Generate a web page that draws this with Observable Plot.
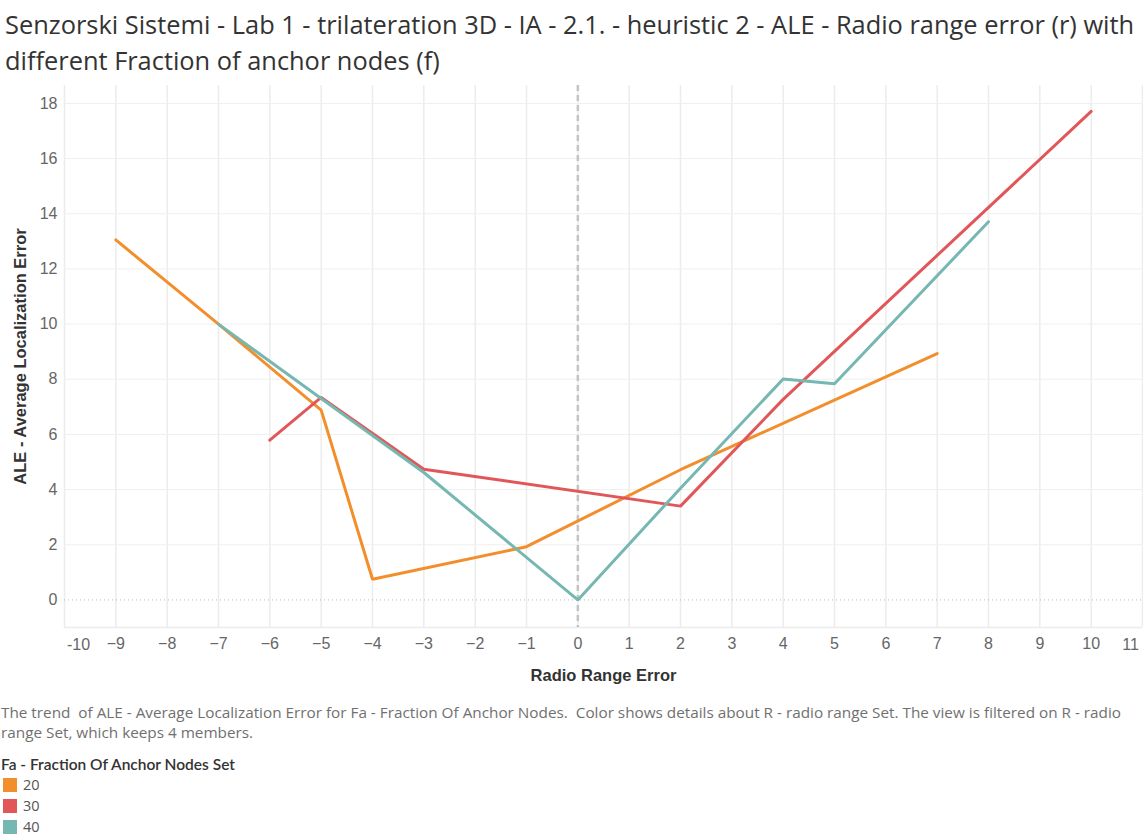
<!DOCTYPE html>
<html>
<head>
<meta charset="utf-8">
<script src="https://cdn.jsdelivr.net/npm/d3@7"></script>
<script src="https://cdn.jsdelivr.net/npm/@observablehq/plot@0.6"></script>
<style>
  body { margin: 0; background: #fff; font-family: "Open Sans", Lato, sans-serif; }
  #title { padding: 6px 0 0 5px; font-size: 25.4px; line-height: 36px; color: #333; height: 74px; white-space: nowrap; }
  #chart svg { display: block; }
  #caption { padding-left: 1px; font-size: 15.3px; line-height: 20px; color: #707070; margin-top: 7px; width: 1138px; }
  #legend { margin-top: 12px; padding-left: 3px; }
  #legend .head { font-family: Lato, sans-serif; font-size: 15.5px; color: #333; font-weight: 600; line-height: 20px; margin-left: -2px; }
  #legend .item { display: flex; align-items: center; height: 21px; font-size: 14.5px; color: #555; }
  #legend .sw { width: 14px; height: 14px; margin-right: 6px; }
</style>
</head>
<body>
<div id="title">Senzorski Sistemi - Lab 1 - trilateration 3D - IA - 2.1. - heuristic 2 - ALE - Radio range error (r) with<br>different Fraction of anchor nodes (f)</div>
<div id="chart"></div>
<div id="caption">The trend &nbsp;of ALE - Average Localization Error for Fa - Fraction Of Anchor Nodes. &nbsp;Color shows details about R - radio range Set. The view is filtered on R - radio range Set, which keeps 4 members.</div>
<div id="legend"></div>
<script>
// series (x = radio range error, y = ALE)
const seriesNames = ["20", "30", "40"];
const colors = ["#f28e2b", "#e15759", "#76b7b2"];

const r20 = [-9, -7, -5, -4, -1, 2, 7];
const ale20 = [13.05, 10.0, 6.88, 0.75, 1.93, 4.72, 8.93];

const r30 = [-6, -5, -3, 2, 4, 10];
const ale30 = [5.79, 7.34, 4.74, 3.40, 7.27, 17.71];

const r40 = [-7, -5, -3, 0, 2, 4, 5, 8];
const ale40 = [10.0, 7.3, 4.62, 0.0, 4.05, 8.01, 7.84, 13.71];

const xTicks = d3.range(-10, 12);
const yTicks = [0, 2, 4, 6, 8, 10, 12, 14, 16, 18];
const xDomain = [-10, 11];
const yDomain = [-1, 18.65];

const rows = [
  ...r20.map((r, i) => ({fa: "20", r, ale: ale20[i]})),
  ...r30.map((r, i) => ({fa: "30", r, ale: ale30[i]})),
  ...r40.map((r, i) => ({fa: "40", r, ale: ale40[i]}))
];

const inner = xTicks.slice(1, -1);

const chart = Plot.plot({
  width: 1143,
  height: 615,
  marginLeft: 64,
  marginRight: 1,
  marginTop: 5,
  marginBottom: 68,
  style: {fontFamily: "'Liberation Sans', Arial, sans-serif", fontSize: "16px", color: "#666", background: "#fff"},
  x: {domain: xDomain},
  y: {domain: yDomain},
  color: {domain: seriesNames, range: colors},
  marks: [
    Plot.gridX(xTicks, {stroke: "#ececec", strokeWidth: 1.5, strokeOpacity: 1}),
    Plot.gridY(yTicks.slice(1), {stroke: "#efefef", strokeWidth: 1, strokeOpacity: 1}),
    Plot.ruleY([yDomain[0]], {stroke: "#ececec", strokeWidth: 1.5}),
    Plot.ruleY([0], {stroke: "#bbb", strokeWidth: 1, strokeDasharray: "1,3"}),
    Plot.ruleX([0], {stroke: "#c4c4c4", strokeWidth: 2.5, strokeDasharray: "6,4"}),
    Plot.axisY(yTicks, {tickSize: 0, tickPadding: 7, fill: "#666", fontSize: 16,
      label: "ALE - Average Localization Error", labelAnchor: "center", labelArrow: "none", labelOffset: 50}),
    Plot.axisX(inner, {tickSize: 0, tickPadding: 10, fill: "#666", fontSize: 16,
      label: "Radio Range Error", labelAnchor: "center", labelArrow: "none", labelOffset: 53}),
    Plot.text([xTicks[0]], {x: d => d, frameAnchor: "bottom", dy: 22, dx: 14, fill: "#666", fontSize: 16}),
    Plot.text([xTicks[xTicks.length - 1]], {x: d => d, frameAnchor: "bottom", dy: 22, dx: -12, fill: "#666", fontSize: 16}),
    Plot.line(rows, {x: "r", y: "ale", z: "fa", stroke: "fa", strokeWidth: 3, strokeLinejoin: "miter", strokeLinecap: "round"})
  ]
});

// axis label styling: bold, darker
chart.querySelectorAll("[aria-label='y-axis label'] text, [aria-label='x-axis label'] text").forEach(t => {
  t.setAttribute("font-weight", "bold");
  t.setAttribute("fill", "#333");
  t.setAttribute("font-size", "16.5");
});
document.getElementById("chart").appendChild(chart);

const legend = document.getElementById("legend");
legend.innerHTML = `<div class="head">Fa - Fraction Of Anchor Nodes Set</div>` +
  seriesNames.map((s, i) => `<div class="item"><span class="sw" style="background:${colors[i]}"></span>${s}</div>`).join("");
</script>
</body>
</html>
